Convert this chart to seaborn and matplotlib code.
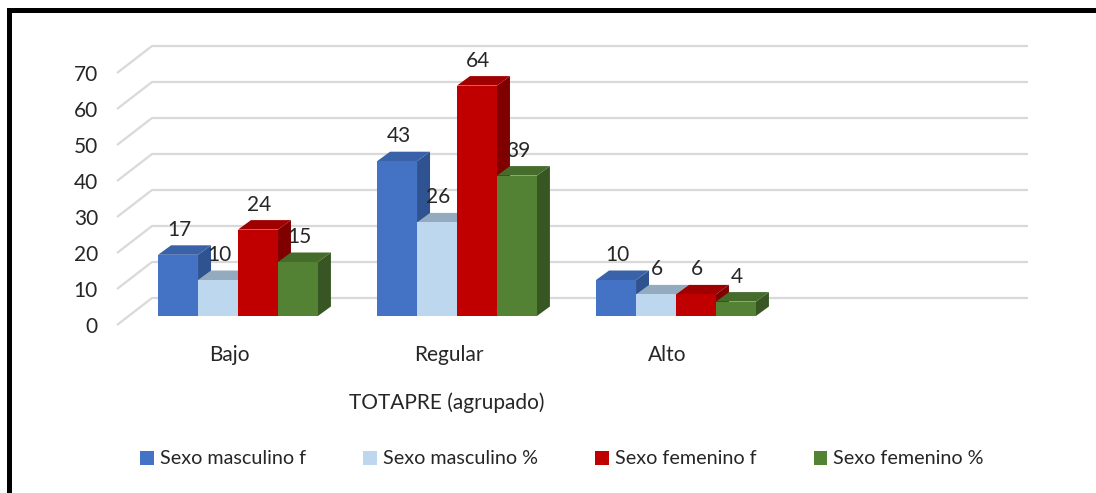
import numpy as np
import pandas as pd
import matplotlib
matplotlib.use("Agg")
import matplotlib.pyplot as plt
import seaborn as sns
from matplotlib.patches import Polygon, Rectangle
from matplotlib.transforms import ScaledTranslation

# ---- data ----
categories = ["Bajo", "Regular", "Alto"]
series = ["Sexo masculino f", "Sexo masculino %", "Sexo femenino f", "Sexo femenino %"]
masc_f = [17, 43, 10]
masc_pct = [10, 26, 6]
fem_f = [24, 64, 6]
fem_pct = [15, 39, 4]
y_ticks = [0, 10, 20, 30, 40, 50, 60, 70]
x_title = "TOTAPRE (agrupado)"

front_colors = ["#4472C4", "#BDD7EE", "#C00000", "#548235"]
top_colors = ["#3A62A8", "#93AABF", "#A00000", "#456C2B"]
side_colors = ["#2F5290", "#8A9FB2", "#800000", "#375623"]

rows = []
for s, vals in zip(series, [masc_f, masc_pct, fem_f, fem_pct]):
    for c, v in zip(categories, vals):
        rows.append({"cat": c, "serie": s, "value": v})
df = pd.DataFrame(rows)

sns.set_style("white")
plt.rcParams["font.family"] = ["Lato", "DejaVu Sans"]
TXT = "#262626"

W, H = 1096, 493
fig = plt.figure(figsize=(W / 100, H / 100), dpi=100)
ax_left, ax_right, ax_y0, ax_y70 = 128.5, 1004.5, 316, 64
ax = fig.add_axes([ax_left / W, (H - ax_y0) / H, (ax_right - ax_left) / W, (ax_y0 - ax_y70) / H])

sns.barplot(data=df, x="cat", y="value", hue="serie", order=categories,
            hue_order=series, palette=front_colors, width=0.73, saturation=1,
            linewidth=0, ax=ax, legend=False)
ax.set_xlim(-0.5, 3.5)
ax.set_ylim(0, 70)

px_x = (ax_right - ax_left) / 4.0  # px per x unit
px_y = (ax_y0 - ax_y70) / 70.0      # px per y unit

# 3D depth offsets (in data units)
ddx, ddy = 13 / px_x, 9.5 / px_y
fx, fy = -11.5 / px_x, -9 / px_y
bx, by = 23.5 / px_x, 18 / px_y

# gridlines (3D floor/back wall style)
for v in y_ticks:
    ax.plot([-0.5 + fx, -0.5 + bx, 3.5 + bx], [v + fy, v + by, v + by],
            color="#D9D9D9", lw=1.6, zorder=1, clip_on=False, solid_capstyle="butt")

# collect bars and add 3D faces
bars = []
for j, cont in enumerate(ax.containers):
    for rect in cont:
        bars.append((rect.get_x(), j, rect))
bars.sort(key=lambda t: t[0])
for i, (_, j, rect) in enumerate(bars):
    x0, w, h = rect.get_x(), rect.get_width(), rect.get_height()
    z = 3 + 0.01 * i
    rect.set_zorder(z)
    rect.set_clip_on(False)
    top = [(x0, h), (x0 + w, h), (x0 + w + ddx, h + ddy), (x0 + ddx, h + ddy)]
    side = [(x0 + w, 0), (x0 + w + ddx, ddy), (x0 + w + ddx, h + ddy), (x0 + w, h)]
    ax.add_patch(Polygon(top, closed=True, fc=top_colors[j], ec="none", zorder=z - 0.002, clip_on=False))
    ax.add_patch(Polygon(side, closed=True, fc=side_colors[j], ec="none", zorder=z - 0.004, clip_on=False))
    ax.annotate(f"{int(round(h))}", (x0 + w / 2, h), xytext=(1, 18), textcoords="offset points",
                ha="center", va="center", fontsize=15, color=TXT, zorder=20)

for sp in ax.spines.values():
    sp.set_visible(False)
ax.grid(False)
ax.set_yticks(y_ticks)
ax.set_xticks(range(len(categories)))
ax.set_xticklabels(categories)
ax.tick_params(axis="both", length=0, colors=TXT, labelsize=15)
ax.tick_params(axis="y", pad=22)
ax.tick_params(axis="x", pad=21)
ax.set_ylabel("")
ax.set_xlabel(x_title, fontsize=15, color=TXT)
ax.xaxis.set_label_coords((447 - ax_left) / (ax_right - ax_left), -(403 - ax_y0) / (ax_y0 - ax_y70))
ax.xaxis.label.set_va("center")

for lbl in ax.get_yticklabels():
    lbl.set_transform(lbl.get_transform() + ScaledTranslation(0, -0.09, fig.dpi_scale_trans))
for lbl in ax.get_xticklabels():
    lbl.set_transform(lbl.get_transform() + ScaledTranslation(-0.085, 0, fig.dpi_scale_trans))

handles = [Rectangle((0, 0), 1, 1, fc=c, ec="none") for c in front_colors]
fig.legend(handles, series, loc="center", bbox_to_anchor=(562 / W, (H - 459) / H), ncol=4,
           frameon=False, fontsize=14.2, handlelength=0.7, handleheight=0.7,
           handletextpad=0.3, columnspacing=2.9, labelcolor=TXT)

fig.add_artist(Rectangle((8.5 / W, -0.2), 1.5, (H - 9.5) / H + 0.2, transform=fig.transFigure,
                         fill=False, ec="black", lw=5 * 0.72))

fig.savefig("out.png", dpi=100)
